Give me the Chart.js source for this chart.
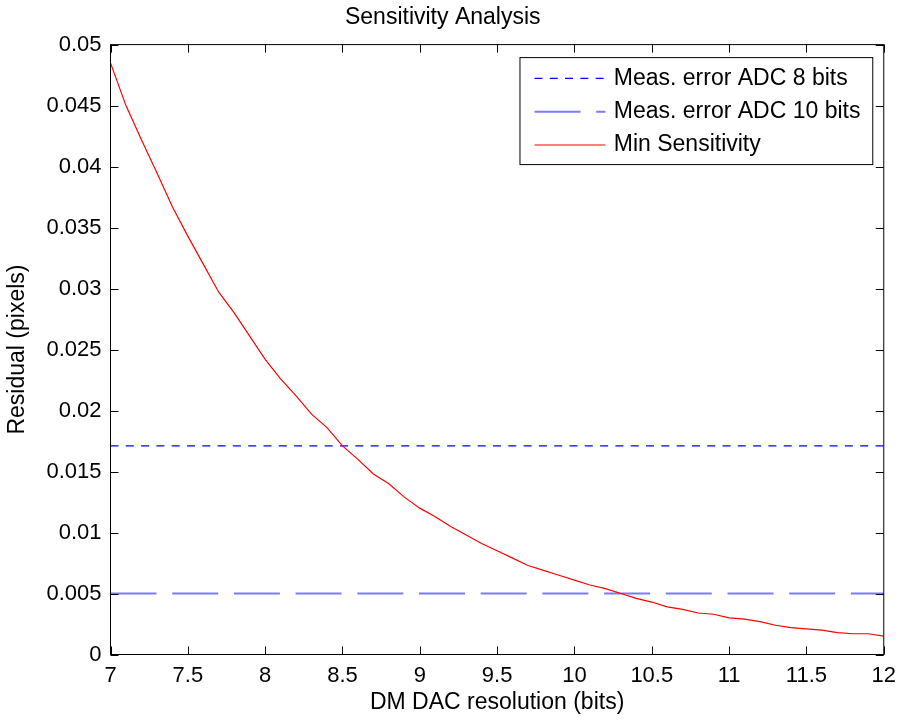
<!DOCTYPE html>
<html>
<head>
<meta charset="utf-8">
<script src="https://cdn.jsdelivr.net/npm/chart.js@4.4.0/dist/chart.umd.min.js"></script>
<style>
html,body{margin:0;padding:0;background:#fff;}
canvas{display:block;}
</style>
</head>
<body>
<canvas id="c" width="904" height="720"></canvas>
<script>
// ---- data ----
const resolutionBits = [7.0,7.1,7.2,7.3,7.4,7.5,7.6,7.7,7.8,7.9,
  8.0,8.1,8.2,8.3,8.4,8.5,8.6,8.7,8.8,8.9,
  9.0,9.1,9.2,9.3,9.4,9.5,9.6,9.7,9.8,9.9,
  10.0,10.1,10.2,10.3,10.4,10.5,10.6,10.7,10.8,10.9,
  11.0,11.1,11.2,11.3,11.4,11.5,11.6,11.7,11.8,11.9,12.0];
const minSensitivity = [0.0485,0.0450,0.0422,0.0395,0.0367,0.0343,0.0320,0.0297,0.0280,0.0261,
  0.0242,0.0226,0.0212,0.0197,0.0186,0.0171,0.0160,0.0148,0.0140,0.0129,
  0.0120,0.0113,0.0105,0.0098,0.0091,0.0085,0.0079,0.0073,0.0069,0.0065,
  0.0061,0.0057,0.0054,0.0050,0.0046,0.0043,0.0039,0.0037,0.0034,0.0033,
  0.0030,0.0029,0.0027,0.0024,0.0022,0.0021,0.0020,0.0018,0.0017,0.0017,0.0015];
const adc8Error = [0.0171, 0.0171];
const adc10Error = [0.005, 0.005];
const lineSpan = [7, 12];
const seriesLabels = ['Meas. error ADC 8 bits', 'Meas. error ADC 10 bits', 'Min Sensitivity'];
const xTickValues = [7,7.5,8,8.5,9,9.5,10,10.5,11,11.5,12];
const xTickLabels = ['7','7.5','8','8.5','9','9.5','10','10.5','11','11.5','12'];
const yTickValues = [0,0.005,0.01,0.015,0.02,0.025,0.03,0.035,0.04,0.045,0.05];
const yTickLabels = ['0','0.005','0.01','0.015','0.02','0.025','0.03','0.035','0.04','0.045','0.05'];
const chartTitle = 'Sensitivity Analysis';
const xAxisTitle = 'DM DAC resolution (bits)';
const yAxisTitle = 'Residual (pixels)';

// ---- styling ----
const FONT = "'Liberation Sans', Arial, Helvetica, sans-serif";

const toPoints = (xs, ys) => xs.map((x, i) => ({x: x, y: ys[i]}));

const framePlugin = {
  id: 'frameTicks',
  afterDatasetsDraw(chart) {
    const {ctx, chartArea: a, scales: {x, y}} = chart;
    const tick = 8;
    ctx.save();
    ctx.strokeStyle = '#000';
    ctx.lineWidth = 1;
    ctx.beginPath();
    xTickValues.forEach(v => {
      const px = Math.round(x.getPixelForValue(v)) + 0.5;
      ctx.moveTo(px, a.bottom); ctx.lineTo(px, a.bottom - tick);
      ctx.moveTo(px, a.top); ctx.lineTo(px, a.top + tick);
    });
    yTickValues.forEach(v => {
      const py = Math.round(y.getPixelForValue(v)) + 0.5;
      ctx.moveTo(a.left, py); ctx.lineTo(a.left + tick, py);
      ctx.moveTo(a.right, py); ctx.lineTo(a.right - tick, py);
    });
    ctx.stroke();
    ctx.strokeRect(a.left, a.top, a.right - a.left, a.bottom - a.top);
    ctx.restore();
  }
};

const legendPlugin = {
  id: 'insideLegend',
  afterDraw(chart) {
    const {ctx, chartArea: a} = chart;
    const ds = chart.data.datasets;
    ctx.save();
    ctx.font = '23px ' + FONT;
    const textW = Math.max(...ds.map(d => ctx.measureText(d.label).width));
    const padL = 14.5, sampleLen = 71, gap = 8.3, padR = 12.3;
    const w = padL + sampleLen + gap + textW + padR;
    const right = a.right - 11;
    const left = right - w;
    const top = a.top + 13;
    const h = 107;
    ctx.fillStyle = '#fff';
    ctx.fillRect(left, top, w, h);
    ctx.strokeStyle = '#000';
    ctx.lineWidth = 1;
    ctx.strokeRect(left, top, w, h);
    ds.forEach((d, i) => {
      const cy = top + 20.8 + i * 33.3;
      ctx.save();
      ctx.strokeStyle = d.borderColor;
      ctx.lineWidth = d.borderWidth;
      ctx.setLineDash(d.borderDash || []);
      ctx.beginPath();
      ctx.moveTo(left + padL, cy);
      ctx.lineTo(left + padL + sampleLen, cy);
      ctx.stroke();
      ctx.restore();
      ctx.fillStyle = '#000';
      ctx.textAlign = 'left';
      ctx.textBaseline = 'middle';
      ctx.fillText(d.label, left + padL + sampleLen + gap, cy);
    });
    ctx.restore();
  }
};

new Chart(document.getElementById('c'), {
  type: 'line',
  data: {
    datasets: [
      {
        label: seriesLabels[0],
        data: toPoints(lineSpan, adc8Error),
        borderColor: '#0000ff',
        borderWidth: 1.2,
        borderDash: [8, 7.3],
        pointRadius: 0,
        order: 1
      },
      {
        label: seriesLabels[1],
        data: toPoints(lineSpan, adc10Error),
        borderColor: 'rgb(122,122,255)',
        borderWidth: 2,
        borderDash: [46, 15.7],
        pointRadius: 0,
        order: 1
      },
      {
        label: seriesLabels[2],
        data: toPoints(resolutionBits, minSensitivity),
        borderColor: '#ff0000',
        borderWidth: 1.2,
        pointRadius: 0,
        tension: 0,
        order: 0
      }
    ]
  },
  options: {
    responsive: false,
    animation: false,
    devicePixelRatio: 1,
    events: [],
    layout: {padding: {left: 0, right: 18.5, top: 0, bottom: 0}},
    plugins: {
      legend: {display: false},
      tooltip: {enabled: false},
      title: {
        display: true,
        text: chartTitle,
        color: '#000',
        font: {family: FONT, size: 23, weight: 'normal'},
        padding: {top: 4.2, bottom: 12.8}
      }
    },
    scales: {
      x: {
        type: 'linear',
        min: 7, max: 12,
        afterBuildTicks: s => { s.ticks = xTickValues.map(v => ({value: v})); },
        afterFit: s => { s.height = 65.5; },
        ticks: {
          autoSkip: false, maxRotation: 0, minRotation: 0,
          padding: 8,
          color: '#000',
          font: {family: FONT, size: 22},
          callback: v => xTickLabels[xTickValues.indexOf(v)]
        },
        grid: {display: false, drawTicks: false},
        border: {display: false},
        title: {
          display: true, text: xAxisTitle, color: '#000',
          font: {family: FONT, size: 23},
          padding: {top: 0, bottom: 3.7}
        }
      },
      y: {
        type: 'linear',
        min: 0, max: 0.05,
        afterBuildTicks: s => { s.ticks = yTickValues.map(v => ({value: v})); },
        afterFit: s => { s.width = 110.5; },
        ticks: {
          autoSkip: false,
          padding: 9,
          color: '#000',
          font: {family: FONT, size: 22},
          callback: v => yTickLabels[yTickValues.indexOf(v)]
        },
        grid: {display: false, drawTicks: false},
        border: {display: false},
        title: {
          display: true, text: yAxisTitle, color: '#000',
          font: {family: FONT, size: 23},
          padding: {top: 4.2, bottom: 0}
        }
      }
    }
  },
  plugins: [framePlugin, legendPlugin]
});
</script>
</body>
</html>
